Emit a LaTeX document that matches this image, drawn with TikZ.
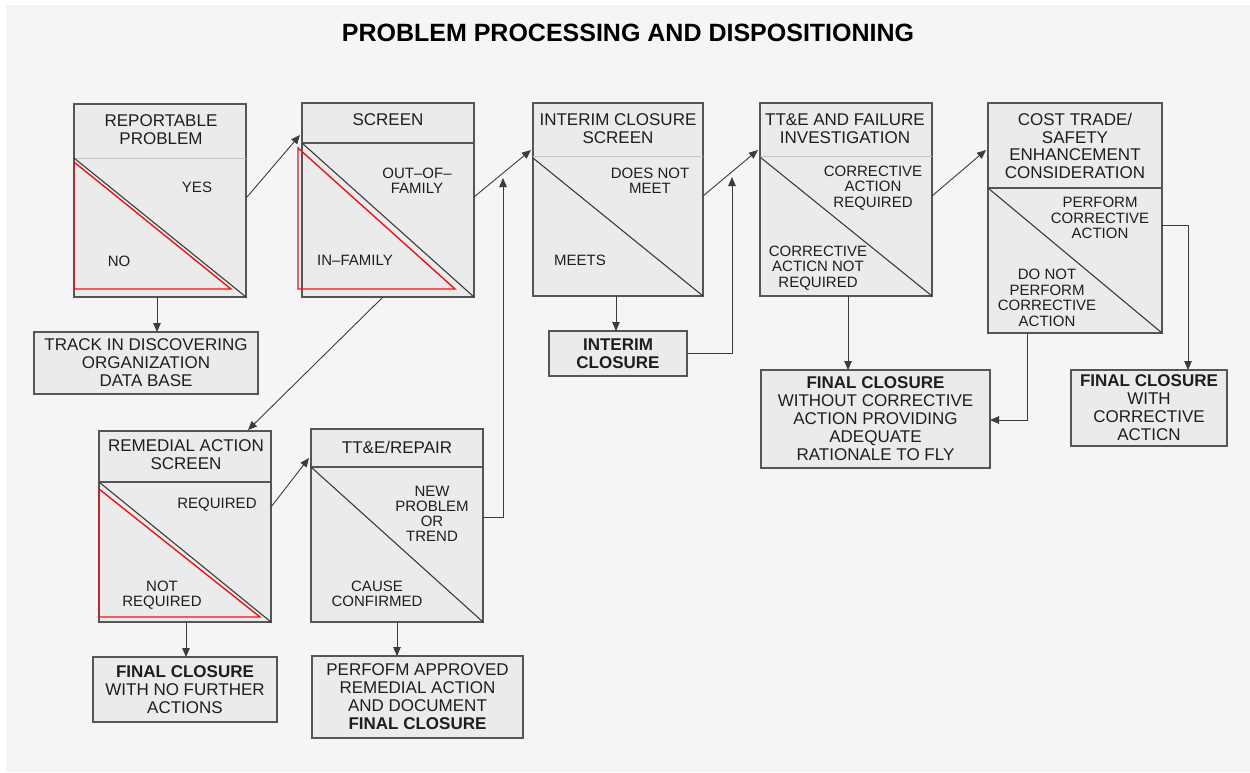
\documentclass[tikz,border=0pt]{standalone}
\usepackage{fontspec}
\setmainfont{Liberation Sans}
\usetikzlibrary{calc,arrows.meta}
\definecolor{paper}{HTML}{F5F5F5}
\definecolor{boxfill}{HTML}{EBEBEB}
\definecolor{edge}{HTML}{555555}
\definecolor{wire}{HTML}{3C3C3C}
\definecolor{ink}{HTML}{1E1E1E}
\definecolor{faint}{HTML}{C4C4C4}
\definecolor{mark}{HTML}{E8141B}
\tikzset{
  box/.style={draw=edge, fill=boxfill, line width=1.3pt, inner sep=0pt, outer sep=0pt, anchor=north west},
  hdr/.style={font=\fontsize{17}{18}\selectfont, align=center, text=ink, inner sep=0pt},
  lbl/.style={font=\fontsize{15}{15.5}\selectfont, align=center, text=ink, inner sep=0pt},
  divsolid/.style={draw=edge, line width=1.2pt},
  divfaint/.style={draw=faint, line width=1pt},
  diag/.style={draw=wire, line width=1.1pt},
  redtri/.style={draw=mark, line width=1.4pt, line join=miter},
  arr/.style={draw=wire, line width=0.9pt, -{Triangle[length=9pt,width=7.5pt]}},
}
\begin{document}
\begin{tikzpicture}[x=1pt,y=-1pt]
% page
\useasboundingbox (0,0) rectangle (1250,772);
\fill[white] (0,0) rectangle (1250,772);
\fill[paper] (6,5) rectangle (1250,772);

\node[font=\bfseries\fontsize{25}{26}\selectfont, text=black] (title) at (628,33) {PROBLEM PROCESSING AND DISPOSITIONING};

% decision boxes
\node[box, minimum width=172pt, minimum height=193pt] (rep) at (74,104) {};
\node[box, minimum width=172pt, minimum height=194pt] (scr) at (302,103) {};
\node[box, minimum width=170pt, minimum height=193pt] (ics) at (533,103) {};
\node[box, minimum width=172pt, minimum height=193pt] (tte) at (760,103) {};
\node[box, minimum width=174pt, minimum height=230pt] (cst) at (988,103) {};
\node[box, minimum width=172pt, minimum height=191pt] (ras) at (99,431) {};
\node[box, minimum width=172pt, minimum height=193pt] (rpr) at (311,429) {};

% outcome boxes
\node[box, minimum width=224pt, minimum height=62pt] (track) at (34,332) {};
\node[box, minimum width=138pt, minimum height=45pt] (icl) at (549,331) {};
\node[box, minimum width=229pt, minimum height=98pt] (fcw) at (761,370) {};
\node[box, minimum width=156pt, minimum height=76pt] (fcc) at (1071,370) {};
\node[box, minimum width=184pt, minimum height=65pt] (fcn) at (93,657) {};
\node[box, minimum width=211pt, minimum height=82pt] (perf) at (312,656) {};

% header dividers and diagonals
\draw[divfaint] ($(rep.north west)+(0,54)$) -- ($(rep.north east)+(0,54)$);
\draw[diag] ($(rep.north west)+(0,54)$) -- (rep.south east);
\draw[divsolid] ($(scr.north west)+(0,40)$) -- ($(scr.north east)+(0,40)$);
\draw[diag] ($(scr.north west)+(0,40)$) -- (scr.south east);
\draw[divfaint] ($(ics.north west)+(0,53)$) -- ($(ics.north east)+(0,53)$);
\draw[diag] ($(ics.north west)+(0,55)$) -- (ics.south east);
\draw[divfaint] ($(tte.north west)+(0,53)$) -- ($(tte.north east)+(0,53)$);
\draw[diag] ($(tte.north west)+(0,54)$) -- (tte.south east);
\draw[divsolid] ($(cst.north west)+(0,85)$) -- ($(cst.north east)+(0,85)$);
\draw[diag] ($(cst.north west)+(0,85)$) -- (cst.south east);
\draw[divsolid] ($(ras.north west)+(0,51)$) -- ($(ras.north east)+(0,51)$);
\draw[diag] ($(ras.north west)+(0,51)$) -- (ras.south east);
\draw[divsolid] ($(rpr.north west)+(0,38)$) -- ($(rpr.north east)+(0,38)$);
\draw[diag] ($(rpr.north west)+(0,38)$) -- (rpr.south east);

% red triangles
\draw[redtri] ($(rep.north west)+(0,58)$) -- ($(rep.south west)+(0,-8)$) -- ($(rep.south east)+(-15,-8)$) -- cycle;
\draw[redtri] ($(scr.north west)+(-4,45)$) -- ($(scr.south west)+(-4,-8)$) -- ($(scr.south east)+(-19,-8)$) -- cycle;
\draw[redtri] ($(ras.north west)+(0,58)$) -- ($(ras.south west)+(0,-5)$) -- ($(ras.south east)+(-11,-5)$) -- cycle;

% box texts
\node[hdr] (repT) at (161,130) {REPORTABLE\\PROBLEM};
\node[lbl] (repY) at (197,187) {YES};
\node[lbl] (repN) at (119,261) {NO};

\node[hdr] (scrT) at (388,120) {SCREEN};
\node[lbl] (scrO) at (417,181) {OUT--OF--\\FAMILY};
\node[lbl] (scrI) at (355,260) {IN--FAMILY};

\node[hdr] (icsT) at (618,129) {INTERIM CLOSURE\\SCREEN};
\node[lbl] (icsD) at (650,181) {DOES NOT\\MEET};
\node[lbl] (icsM) at (580,260) {MEETS};

\node[hdr] (tteT) at (845,129) {TT\&E AND FAILURE\\INVESTIGATION};
\node[lbl] (tteR) at (873,188) {CORRECTIVE\\ACTION\\REQUIRED};
\node[lbl] (tteN) at (818,268) {CORRECTIVE\\ACTICN NOT\\REQUIRED};

\node[hdr, font=\fontsize{17}{17.6}\selectfont] (cstT) at (1075,146) {COST TRADE/\\SAFETY\\ENHANCEMENT\\CONSIDERATION};
\node[lbl] (cstP) at (1100,218) {PERFORM\\CORRECTIVE\\ACTION};
\node[lbl] (cstD) at (1047,298) {DO NOT\\PERFORM\\CORRECTIVE\\ACTION};

\node[hdr] (rasT) at (186,455) {REMEDIAL ACTION\\SCREEN};
\node[lbl] (rasR) at (217,505) {REQUIRED};
\node[lbl] (rasN) at (162,595) {NOT\\REQUIRED};

\node[hdr] (rprT) at (397,447) {TT\&E/REPAIR};
\node[lbl, font=\fontsize{15}{15}\selectfont] (rprN) at (432,514) {NEW\\PROBLEM\\OR\\TREND};
\node[lbl] (rprC) at (377,594) {CAUSE\\CONFIRMED};

\node[hdr] (trackT) at (track.center) {TRACK IN DISCOVERING\\ORGANIZATION\\DATA BASE};
\node[hdr, font=\bfseries\fontsize{17}{18}\selectfont] (iclT) at (icl.center) {INTERIM\\CLOSURE};
\node[hdr] (fcwT) at (fcw.center) {\textbf{FINAL CLOSURE}\\WITHOUT CORRECTIVE\\ACTION PROVIDING\\ADEQUATE\\RATIONALE TO FLY};
\node[hdr] (fccT) at (fcc.center) {\textbf{FINAL CLOSURE}\\WITH\\CORRECTIVE\\ACTICN};
\node[hdr] (fcnT) at (fcn.center) {\textbf{FINAL CLOSURE}\\WITH NO FURTHER\\ACTIONS};
\node[hdr] (perfT) at (perf.center) {PERFOFM APPROVED\\REMEDIAL ACTION\\AND DOCUMENT\\\textbf{FINAL CLOSURE}};

% connectors
\draw[arr] ($(rep.south west)+(83,0)$) coordinate (c1) -- (c1 |- track.north);
\draw[arr] ($(rep.north east)+(1,93)$) -- ($(scr.north west)+(-2,32)$);
\draw[arr] ($(scr.north east)+(0,94)$) -- ($(ics.north west)+(-2,47)$);
\draw[arr] ($(rpr.north east)+(0,88)$) -| ($(scr.north east)+(29,75)$);
\draw[arr] (icl.east) -| ($(ics.north east)+(29,74)$);
\draw[arr] ($(ics.north east)+(0,93)$) -- ($(tte.north west)+(-2,47)$);
\draw[arr] ($(tte.north east)+(0,93)$) -- ($(cst.north west)+(-2,47)$);
\draw[arr] ($(ics.south west)+(83,0)$) coordinate (c2) -- (c2 |- icl.north);
\draw[arr] ($(tte.south west)+(88,0)$) coordinate (c3) -- (c3 |- fcw.north);
\draw[arr] ($(cst.north east)+(0,122)$) -| ($(fcc.north east)+(-39,0)$);
\draw[arr] ($(cst.south west)+(39,0)$) |- ($(fcw.north east)+(0,50)$);
\draw[arr] ($(scr.south west)+(81,0)$) -- ($(ras.north west)+(149,-1)$);
\draw[arr] ($(ras.north east)+(0,76)$) -- ($(rpr.north west)+(-2,29)$);
\draw[arr] ($(ras.south west)+(87,0)$) coordinate (c4) -- (c4 |- fcn.north);
\draw[arr] ($(rpr.south west)+(86,0)$) coordinate (c5) -- (c5 |- perf.north);
\end{tikzpicture}
\end{document}
